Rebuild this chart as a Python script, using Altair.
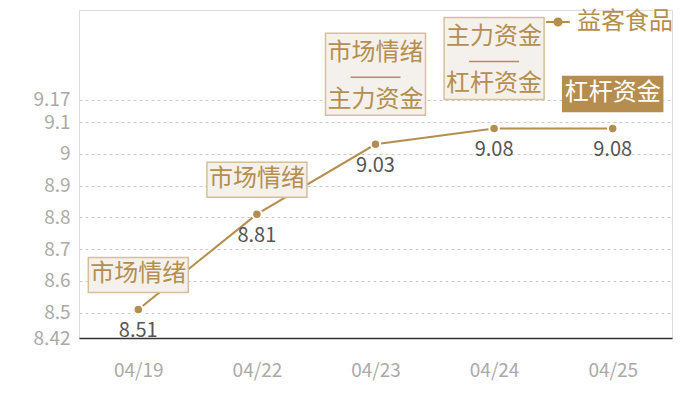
import altair as alt
import pandas as pd

dates = ["04/19", "04/22", "04/23", "04/24", "04/25"]
values = [8.51, 8.81, 9.03, 9.08, 9.08]
notes = [["市场情绪"], ["市场情绪"], ["市场情绪", "主力资金"],
         ["主力资金", "杠杆资金"], ["杠杆资金"]]
highlight = [False, False, False, False, True]
series_name = "益客食品"
y_ticks = [8.42, 8.5, 8.6, 8.7, 8.8, 8.9, 9.0, 9.1, 9.17]

GOLD = "#B58E4F"
BOX_FILL = "#F4F1EC"
BOX_STROKE = "#D6BF98"
FONT = "Noto Sans CJK SC"

df = pd.DataFrame({
    "date": dates,
    "value": values,
    "note": notes,
    "nlines": [len(n) for n in notes],
    "hl": highlight,
    "series": [series_name] * len(dates),
})

x = alt.X("date:N", sort=dates, scale=alt.Scale(type="point", padding=0.5),
          axis=alt.Axis(title=None, labelAngle=0, labelColor="#AAAAAA", labelFontSize=19,
                        labelPadding=23, ticks=False, domainColor="#333333", domainWidth=1.5,
                        grid=False, labelFont=FONT))
y = alt.Y("value:Q", scale=alt.Scale(domain=[8.42, 9.453], nice=False, zero=False),
          axis=alt.Axis(values=y_ticks, title=None, domain=False, ticks=False,
                        labelExpr="'' + datum.value",
                        labelColor="#AAAAAA", labelFontSize=19, labelPadding=9,
                        gridDash=[3, 3], gridColor="#CCCCCC", labelFont=FONT))

base = alt.Chart(df).encode(x=x, y=y)

legend_path = "M-1,0L1,0M-0.3,0A0.3,0.3,0,1,1,0.3,0A0.3,0.3,0,1,1,-0.3,0Z"

line = base.mark_line(strokeWidth=2).encode(
    color=alt.Color("series:N", scale=alt.Scale(range=[GOLD]),
                    legend=alt.Legend(title=None, orient="none", legendX=466, legendY=-1,
                                      symbolType=legend_path, symbolSize=560,
                                      symbolStrokeWidth=2, symbolFillColor=GOLD,
                                      symbolStrokeColor=GOLD, labelFontSize=24,
                                      labelColor=GOLD, labelFont=FONT, labelOffset=6))
)

points = base.mark_point(filled=True, size=90, color=GOLD, stroke="white",
                         strokeWidth=2, opacity=1)

value_labels = base.mark_text(dy=22, fontSize=20, color="#555555", font=FONT).encode(
    text=alt.Text("value:Q", format=".2f"))

single = base.transform_filter("datum.nlines == 1")
double = base.transform_filter("datum.nlines > 1")

box_single = single.mark_rect(xOffset=-50, x2Offset=50, yOffset=-52, y2Offset=-17,
                              strokeWidth=1.5).encode(
    x2=alt.X2("date:N"), y2=alt.Y2("value:Q"),
    fill=alt.condition("datum.hl", alt.value(GOLD), alt.value(BOX_FILL)),
    stroke=alt.condition("datum.hl", alt.value(GOLD), alt.value(BOX_STROKE)),
)
box_double = double.mark_rect(xOffset=-50, x2Offset=50, yOffset=-111, y2Offset=-29,
                              fill=BOX_FILL, stroke=BOX_STROKE, strokeWidth=1.5).encode(
    x2=alt.X2("date:N"), y2=alt.Y2("value:Q"))

divider = double.mark_rule(xOffset=-25, x2Offset=25, yOffset=-67, strokeWidth=1.5,
                           color=GOLD).encode(x2=alt.X2("date:N"))

text_single = single.mark_text(dy=-35, fontSize=24, font=FONT, baseline="middle").encode(
    text="note:N",
    color=alt.condition("datum.hl", alt.value("white"), alt.value(GOLD)),
)
text_double = double.mark_text(dy=-91, fontSize=24, font=FONT, baseline="middle",
                               lineHeight=47, color=GOLD).encode(text="note:N")

chart = alt.layer(line, points, value_labels, box_single, box_double, divider,
                  text_single, text_double).properties(
    width=593, height=328,
    autosize=alt.AutoSizeParams(type="none"),
    padding={"left": 71, "top": 2, "right": 20, "bottom": 54},
).configure_view(stroke=None).configure(background="white")

chart.save("out.html", embed_options={"renderer": "svg", "actions": False})
